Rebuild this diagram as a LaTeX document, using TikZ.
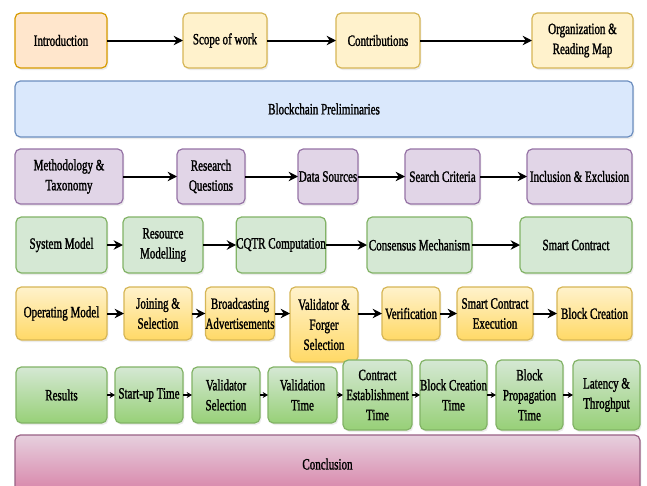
\documentclass[tikz,border=0pt]{standalone}
\usepackage{fontspec}
\setmainfont{Liberation Serif}[FakeStretch=0.7,BoldFont=Liberation Serif,BoldFeatures={FakeBold=1.4}]
\usetikzlibrary{arrows.meta,shadows}
\definecolor{introfill}{HTML}{FFE6CC}
\definecolor{introline}{HTML}{D79B00}
\definecolor{notefill}{HTML}{FFF2CC}
\definecolor{noteline}{HTML}{D6B656}
\definecolor{prelimfill}{HTML}{DAE8FC}
\definecolor{prelimline}{HTML}{6C8EBF}
\definecolor{methfill}{HTML}{E1D5E7}
\definecolor{methline}{HTML}{9673A6}
\definecolor{sysfill}{HTML}{D5E8D4}
\definecolor{sysline}{HTML}{82B366}
\definecolor{opbottom}{HTML}{FFD966}
\definecolor{resbottom}{HTML}{97D077}
\definecolor{conctop}{HTML}{E6D0DE}
\definecolor{concbottom}{HTML}{D5739D}
\definecolor{concline}{HTML}{996185}
\tikzset{
  box/.style={draw,rounded corners=4pt,line width=0.9pt,inner sep=0pt,outer sep=0pt,
    align=center,font=\fontsize{11.8}{15}\bfseries\selectfont,
    drop shadow={shadow xshift=1pt,shadow yshift=-1.5pt,opacity=0.15}},
  introbox/.style={box,fill=introfill,draw=introline},
  notebox/.style={box,fill=notefill,draw=noteline},
  prelimbox/.style={box,fill=prelimfill,draw=prelimline},
  methbox/.style={box,fill=methfill,draw=methline},
  sysbox/.style={box,fill=sysfill,draw=sysline},
  opbox/.style={box,top color=notefill,bottom color=opbottom,draw=noteline},
  resbox/.style={box,top color=sysfill,bottom color=resbottom,draw=sysline},
  concbox/.style={box,top color=conctop,bottom color=concbottom,draw=concline},
  flow/.style={line width=1.5pt,-{Stealth[length=7pt,width=7pt]}},
  smallflow/.style={line width=1pt,-{Stealth[length=4pt,width=4.5pt]}}
}
% name, x1, y1, x2, y2, style, text (pixel coordinates)
\newcommand{\flowbox}[7]{%
  \node[#6,minimum width={(#4-#2)*0.75pt},minimum height={(#5-#3)*0.75pt}]
    (#1) at ({(#2+#4)/2},{(#3+#5)/2}) {#7};
}
\begin{document}
\begin{tikzpicture}[x=0.75pt,y=-0.75pt]
    \fill[white] (0,0) rectangle (647,486);
    \clip (0,0) rectangle (647,486);
    % introduction row
    \flowbox{intro}{15}{13}{107}{68}{introbox}{Introduction}
    \flowbox{scope}{183}{13}{267}{68}{notebox}{Scope of work}
    \flowbox{contrib}{336}{13}{420}{68}{notebox}{Contributions}
    \flowbox{orgmap}{532}{13}{633}{68}{notebox}{Organization \&\\Reading Map}
    \draw[flow] (intro) -- (scope);
    \draw[flow] (scope) -- (contrib);
    \draw[flow] (contrib) -- (orgmap);
    % preliminaries
    \flowbox{prelim}{15}{81}{633}{137}{prelimbox}{Blockchain Preliminaries}
    % methodology row
    \flowbox{method}{15}{149}{123}{204}{methbox}{Methodology \&\\Taxonomy}
    \flowbox{resq}{177}{149}{245}{204}{methbox}{Research\\Questions}
    \flowbox{datasrc}{298}{149}{358}{204}{methbox}{Data Sources}
    \flowbox{search}{405}{149}{480}{204}{methbox}{Search Criteria}
    \flowbox{incl}{527}{149}{632}{204}{methbox}{Inclusion \& Exclusion}
    \draw[flow] (method) -- (resq);
    \draw[flow] (resq) -- (datasrc);
    \draw[flow] (datasrc) -- (search);
    \draw[flow] (search) -- (incl);
    % system model row
    \flowbox{sysmod}{16}{217}{107}{273}{sysbox}{System Model}
    \flowbox{resmod}{123}{217}{203}{273}{sysbox}{Resource\\Modelling}
    \flowbox{cqtr}{237}{217}{325}{273}{sysbox}{CQTR Computation}
    \flowbox{consensus}{367}{217}{472}{273}{sysbox}{Consensus Mechanism}
    \flowbox{smart}{520}{217}{632}{273}{sysbox}{Smart Contract}
    \draw[flow] (sysmod) -- (resmod);
    \draw[flow] (resmod) -- (cqtr);
    \draw[flow] (cqtr) -- (consensus);
    \draw[flow] (consensus) -- (smart);
    % operating model row
    \flowbox{opmod}{16}{287}{107}{340}{opbox}{Operating Model}
    \flowbox{joining}{124}{287}{192}{340}{opbox}{Joining \&\\Selection}
    \flowbox{broadcast}{206}{287}{274}{340}{opbox}{Broadcasting\\Advertisements}
    \flowbox{forger}{290}{287}{358}{362}{opbox}{Validator \&\\Forger\\Selection}
    \flowbox{verif}{382}{287}{440}{340}{opbox}{Verification}
    \flowbox{scexec}{457}{287}{533}{340}{opbox}{Smart Contract\\Execution}
    \flowbox{blockcr}{557}{287}{632}{340}{opbox}{Block Creation}
    \draw[flow] (opmod) -- (joining);
    \draw[flow] (joining) -- (broadcast);
    \draw[flow] (broadcast.east) -- (broadcast.east -| forger.west);
    \draw[flow] (forger.east |- verif.west) -- (verif.west);
    \draw[flow] (verif) -- (scexec);
    \draw[flow] (scexec) -- (blockcr);
    % results row
    \flowbox{results}{16}{367}{107}{423}{resbox}{Results}
    \flowbox{startup}{115}{367}{183}{423}{resbox}{Start-up Time}
    \flowbox{valsel}{192}{367}{260}{423}{resbox}{Validator\\Selection}
    \flowbox{valtime}{268}{367}{337}{423}{resbox}{Validation\\Time}
    \flowbox{contract}{343}{360}{412}{430}{resbox}{Contract\\Establishment\\Time}
    \flowbox{bctime}{420}{360}{487}{430}{resbox}{Block Creation\\Time}
    \flowbox{bptime}{496}{360}{563}{430}{resbox}{Block\\Propagation\\Time}
    \flowbox{latency}{573}{360}{640}{430}{resbox}{Latency \&\\Throghput}
    \draw[smallflow] (results) -- (startup);
    \draw[smallflow] (startup) -- (valsel);
    \draw[smallflow] (valsel) -- (valtime);
    \draw[smallflow] (valtime) -- (contract);
    \draw[smallflow] (contract) -- (bctime);
    \draw[smallflow] (bctime) -- (bptime);
    \draw[smallflow] (bptime) -- (latency);
    % conclusion
    \flowbox{concl}{15}{435}{640}{505}{concbox}{\raisebox{9pt}{Conclusion}}
\end{tikzpicture}
\end{document}
